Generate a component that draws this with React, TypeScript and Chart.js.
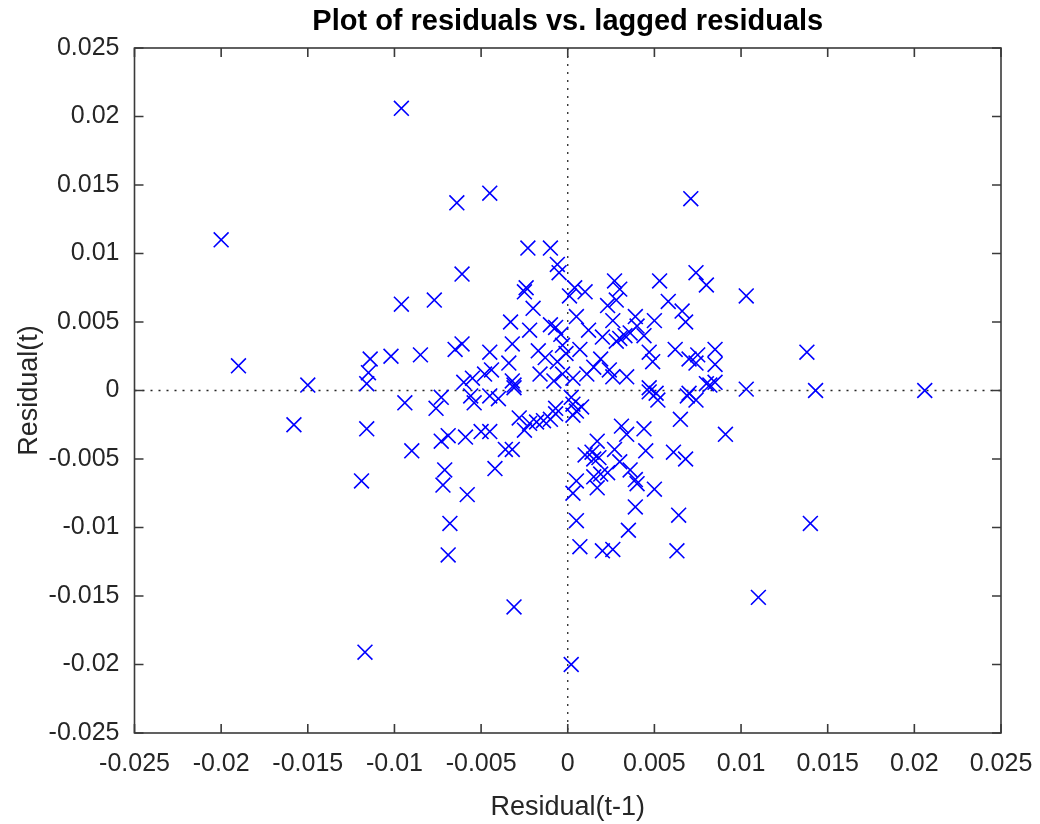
import { useEffect, useRef } from 'react';
import { Chart, registerables } from 'chart.js';

Chart.register(...registerables);

const chartTitle = 'Plot of residuals vs. lagged residuals';
const xAxisLabel = 'Residual(t-1)';
const yAxisLabel = 'Residual(t)';

const tickValues = [-0.025, -0.02, -0.015, -0.01, -0.005, 0, 0.005, 0.01, 0.015, 0.02, 0.025];
const tickLabels = ['-0.025', '-0.02', '-0.015', '-0.01', '-0.005', '0', '0.005', '0.01', '0.015', '0.02', '0.025'];

// Residual(t-1)
const laggedResiduals = [
  -0.0200, -0.0190, -0.0150, -0.0158, -0.0096, -0.0096, -0.0114, -0.0115, -0.0116, -0.0102,
  -0.0085, -0.0077, -0.0094, -0.0116, -0.0090, -0.0119, -0.0117, -0.0064, -0.0045, 0.0071,
  -0.0023, -0.0010, -0.0006, -0.0005, -0.0061, -0.0024, -0.0025, -0.0020, 0.0004, 0.0001,
  0.0010, 0.0027, 0.0030, 0.0028, 0.0023, 0.0053, 0.0074, 0.0080, 0.0058, 0.0066,
  0.0068, 0.0050, 0.0039, 0.0026, 0.0005, 0.0012, 0.0020, 0.0030, 0.0028, 0.0033,
  0.0036, 0.0040, 0.0044, -0.0033, -0.0022, -0.0010, -0.0007, -0.0004, -0.0032, -0.0061,
  -0.0065, -0.0045, -0.0034, -0.0017, -0.0013, -0.0003, -0.0001, 0.0007, -0.0006, 0.0019,
  0.0015, 0.0024, 0.0011, 0.0003, 0.0026, 0.0034, 0.0047, 0.0049, 0.0062, 0.0070,
  0.0075, 0.0074, 0.0085, 0.0085, 0.0080, 0.0085, 0.0047, 0.0051, 0.0070, -0.0060,
  -0.0055, -0.0048, -0.0044, -0.0032, -0.0031, -0.0016, -0.0008, -0.0003, -0.0073, -0.0076,
  -0.0056, -0.0054, -0.0045, -0.0040, -0.0031, -0.0028, -0.0025, -0.0022, -0.0018, -0.0014,
  -0.0010, -0.0007, -0.0007, 0.0003, 0.0005, 0.0008, 0.0003, 0.0002, -0.0073, -0.0069,
  -0.0059, -0.0050, -0.0045, -0.0036, -0.0032, -0.0042, -0.0071, -0.0072, -0.0058, -0.0068,
  -0.0069, 0.0031, 0.0034, 0.0044, 0.0017, 0.0027, 0.0045, 0.0061, 0.0068, 0.0065,
  0.0010, 0.0014, 0.0015, 0.0018, 0.0030, 0.0023, 0.0019, 0.0015, 0.0036, 0.0039,
  0.0040, 0.0005, 0.0017, 0.0003, 0.0050, 0.0039, 0.0064, 0.0005, 0.0035, 0.0007,
  0.0020, 0.0026, 0.0063, -0.0031, 0.0002, 0.0047, 0.0052, 0.0069, 0.0074, 0.0082,
  0.0103, 0.0138, 0.0103, 0.0143, 0.0206, 0.0091, 0.0140, 0.0110,
];

// Residual(t)
const residuals = [
  0.0110, 0.0018, 0.0004, -0.0025, 0.0206, 0.0063, 0.0023, 0.0013, 0.0005, 0.0025,
  0.0026, 0.0066, -0.0009, -0.0028, -0.0044, -0.0066, -0.0191, 0.0137, 0.0144, 0.0140,
  0.0104, 0.0104, 0.0092, 0.0086, 0.0085, 0.0075, 0.0072, 0.0060, 0.0075, 0.0069,
  0.0072, 0.0080, 0.0074, 0.0066, 0.0062, 0.0080, 0.0086, 0.0077, 0.0065, 0.0058,
  0.0050, 0.0051, 0.0054, 0.0051, 0.0054, 0.0044, 0.0039, 0.0038, 0.0036, 0.0040,
  0.0042, 0.0047, 0.0040, 0.0050, 0.0044, 0.0048, 0.0046, 0.0041, 0.0034, 0.0034,
  0.0030, 0.0028, 0.0020, 0.0029, 0.0024, 0.0033, 0.0027, 0.0030, 0.0021, 0.0023,
  0.0017, 0.0015, 0.0012, 0.0009, 0.0010, 0.0010, 0.0028, 0.0021, 0.0030, 0.0023,
  0.0026, 0.0020, 0.0030, 0.0019, 0.0005, 0.0006, 0.0002, -0.0002, -0.0002, 0.0006,
  0.0009, 0.0012, 0.0015, 0.0007, 0.0004, 0.0012, 0.0007, 0.0012, -0.0005, -0.0013,
  -0.0004, -0.0009, -0.0004, -0.0006, 0.0002, -0.0020, -0.0029, -0.0024, -0.0023, -0.0022,
  -0.0021, -0.0017, -0.0013, -0.0010, -0.0015, -0.0012, -0.0018, -0.0005, -0.0037, -0.0033,
  -0.0034, -0.0030, -0.0030, -0.0043, -0.0043, -0.0057, -0.0058, -0.0069, -0.0076, -0.0097,
  -0.0120, -0.0026, -0.0032, -0.0028, -0.0037, -0.0043, -0.0044, -0.0045, -0.0050, -0.0021,
  -0.0047, -0.0045, -0.0050, -0.0049, -0.0052, -0.0060, -0.0061, -0.0063, -0.0058, -0.0065,
  -0.0068, -0.0066, -0.0071, -0.0075, -0.0072, -0.0085, -0.0091, -0.0095, -0.0102, -0.0114,
  -0.0117, -0.0116, -0.0117, -0.0158, -0.0200, -0.0001, -0.0007, -0.0004, -0.0007, 0.0004,
  0.0069, 0.0028, 0.0001, 0.0000, 0.0000, -0.0032, -0.0097, -0.0151,
];

const FONT = '"Liberation Sans", Arial, Helvetica, sans-serif';
const AXIS_COLOR = '#262626';

const decorations = {
  id: 'matlabDecorations',
  beforeDatasetsDraw(chart: any) {
    const { ctx, chartArea: a, scales } = chart;
    const x0 = scales.x.getPixelForValue(0);
    const y0 = scales.y.getPixelForValue(0);
    ctx.save();
    ctx.strokeStyle = '#262626';
    ctx.lineWidth = 1.3;
    ctx.setLineDash([2, 6]);
    ctx.beginPath();
    ctx.moveTo(a.left, y0);
    ctx.lineTo(a.right, y0);
    ctx.moveTo(x0, a.top);
    ctx.lineTo(x0, a.bottom);
    ctx.stroke();
    ctx.restore();
  },
  afterDraw(chart: any) {
    const { ctx, chartArea: a, scales } = chart;
    ctx.save();
    ctx.strokeStyle = '#3a3a3a';
    ctx.lineWidth = 1.6;
    ctx.setLineDash([]);
    ctx.strokeRect(a.left, a.top, a.right - a.left, a.bottom - a.top);
    const tl = 9;
    ctx.beginPath();
    scales.x.ticks.forEach((t: any) => {
      const px = scales.x.getPixelForValue(t.value);
      ctx.moveTo(px, a.bottom);
      ctx.lineTo(px, a.bottom - tl);
      ctx.moveTo(px, a.top);
      ctx.lineTo(px, a.top + tl);
    });
    scales.y.ticks.forEach((t: any) => {
      const py = scales.y.getPixelForValue(t.value);
      ctx.moveTo(a.left, py);
      ctx.lineTo(a.left + tl, py);
      ctx.moveTo(a.right, py);
      ctx.lineTo(a.right - tl, py);
    });
    ctx.stroke();
    ctx.fillStyle = '#000';
    ctx.font = `bold 29px ${FONT}`;
    ctx.textAlign = 'center';
    ctx.textBaseline = 'middle';
    ctx.fillText(chartTitle, (a.left + a.right) / 2, 22);
    ctx.restore();
  },
};

export default function App() {
  const canvasRef = useRef<HTMLCanvasElement | null>(null);

  useEffect(() => {
    if (!canvasRef.current) return;
    const points = laggedResiduals.map((v, i) => ({ x: v, y: residuals[i] }));
    const fixedTicks = (scale: any) => {
      scale.ticks = tickValues.map((v) => ({ value: v }));
    };
    const labelFor = (v: any) => {
      const idx = tickValues.findIndex((t) => Math.abs(t - Number(v)) < 1e-9);
      return idx >= 0 ? tickLabels[idx] : '';
    };
    const chart = new Chart(canvasRef.current, {
      type: 'scatter',
      data: {
        datasets: [
          {
            label: 'Residuals',
            data: points,
            pointStyle: 'crossRot',
            pointRadius: 10.5,
            pointBorderWidth: 1.6,
            borderColor: 'rgb(0,0,255)',
            backgroundColor: 'rgb(0,0,255)',
            pointHoverRadius: 10.5,
          },
        ],
      },
      options: {
        responsive: false,
        animation: false,
        events: [],
        layout: { padding: { top: 48, right: 39, left: 0, bottom: 0 } },
        plugins: {
          legend: { display: false },
          title: { display: false },
          tooltip: { enabled: false },
        },
        scales: {
          x: {
            type: 'linear',
            min: -0.025,
            max: 0.025,
            afterBuildTicks: fixedTicks,
            afterFit: (scale: any) => {
              scale.height = 91;
              scale.paddingLeft = 0;
              scale.paddingRight = 0;
            },
            grid: { display: false, drawTicks: false },
            border: { display: false },
            ticks: {
              padding: 16,
              maxRotation: 0,
              autoSkip: false,
              color: AXIS_COLOR,
              font: { family: FONT, size: 25 },
              callback: labelFor,
            },
            title: {
              display: true,
              text: xAxisLabel,
              color: AXIS_COLOR,
              font: { family: FONT, size: 27 },
              padding: { top: 3, bottom: 0 },
            },
          },
          y: {
            type: 'linear',
            min: -0.025,
            max: 0.025,
            afterBuildTicks: fixedTicks,
            afterFit: (scale: any) => {
              scale.width = 134.5;
              scale.paddingTop = 0;
              scale.paddingBottom = 0;
            },
            grid: { display: false, drawTicks: false },
            border: { display: false },
            ticks: {
              padding: 15,
              autoSkip: false,
              color: AXIS_COLOR,
              font: { family: FONT, size: 25 },
              callback: labelFor,
            },
            title: {
              display: true,
              text: yAxisLabel,
              color: AXIS_COLOR,
              font: { family: FONT, size: 27 },
              padding: { top: 13, bottom: 0 },
            },
          },
        },
      },
      plugins: [decorations],
    });
    return () => chart.destroy();
  }, []);

  return (
    <div style={{ position: 'absolute', left: 0, top: 0, width: 1040, height: 824, background: '#fff' }}>
      <canvas ref={canvasRef} width={1040} height={824} style={{ display: 'block' }} />
    </div>
  );
}
